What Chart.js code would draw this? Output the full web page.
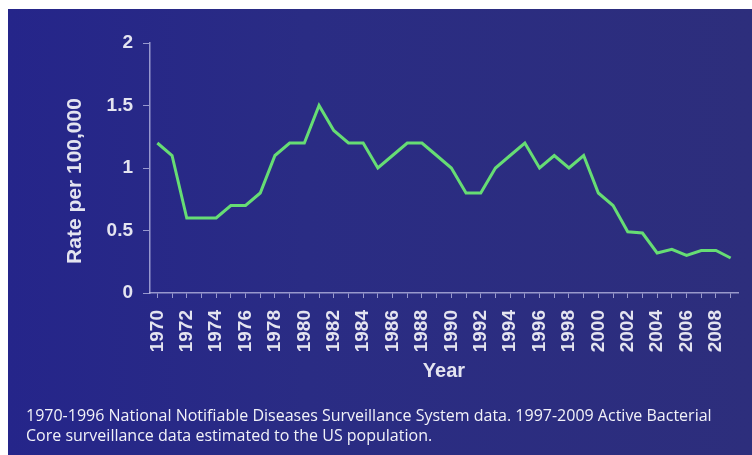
<!DOCTYPE html>
<html>
<head>
<meta charset="utf-8">
<script src="https://cdn.jsdelivr.net/npm/chart.js@4.4.0/dist/chart.umd.min.js"></script>
<style>
  html, body { margin: 0; padding: 0; background: #fff; }
  #wrap { position: relative; width: 752px; height: 455px; overflow: hidden; }
  #panel {
    position: absolute; left: 8px; top: 9px; right: 0; bottom: 0;
    background: linear-gradient(90deg, #25258a 0%, #2a2c84 40%, #2d2e7c 100%);
  }
  #chart { position: absolute; left: 0; top: 0; }
  #note {
    position: absolute; left: 26px; top: 405px;
    font-family: "Open Sans", sans-serif; font-size: 16px; line-height: 20px;
    color: #f2f2f8; white-space: nowrap;
  }
</style>
</head>
<body>
<div id="wrap">
  <div id="panel"></div>
  <canvas id="chart" width="752" height="455"></canvas>
  <div id="note">1970-1996 National Notifiable Diseases Surveillance System data. 1997-2009 Active Bacterial<br>Core surveillance data estimated to the US population.</div>
</div>
<script>
// --- data ---
const years = [
  1970, 1971, 1972, 1973, 1974, 1975, 1976, 1977, 1978, 1979,
  1980, 1981, 1982, 1983, 1984, 1985, 1986, 1987, 1988, 1989,
  1990, 1991, 1992, 1993, 1994, 1995, 1996, 1997, 1998, 1999,
  2000, 2001, 2002, 2003, 2004, 2005, 2006, 2007, 2008, 2009
];
const rates = [
  1.2, 1.1, 0.6, 0.6, 0.6, 0.7, 0.7, 0.8, 1.1, 1.2,
  1.2, 1.5, 1.3, 1.2, 1.2, 1.0, 1.1, 1.2, 1.2, 1.1,
  1.0, 0.8, 0.8, 1.0, 1.1, 1.2, 1.0, 1.1, 1.0, 1.1,
  0.8, 0.7, 0.49, 0.48, 0.32, 0.35, 0.30, 0.34, 0.34, 0.28
];
const yTicks = [0, 0.5, 1, 1.5, 2];
const yTitle = 'Rate per 100,000';
const xTitle = 'Year';

const AXIS_COLOR = 'rgba(190,190,230,0.75)';
const TEXT_COLOR = '#e4e4f0';
const LINE_COLOR = '#66dd74';

// y axis title drawn at its spot in the picture
const yTitlePlugin = {
  id: 'yTitle',
  afterDraw(chart) {
    const ctx = chart.ctx;
    ctx.save();
    ctx.translate(75, 181);
    ctx.rotate(-Math.PI / 2);
    ctx.font = 'bold 21px "Liberation Sans", Arial, sans-serif';
    ctx.fillStyle = TEXT_COLOR;
    ctx.textAlign = 'center';
    ctx.textBaseline = 'middle';
    ctx.fillText(yTitle, 0, 0);
    ctx.restore();
  }
};

const ctx = document.getElementById('chart').getContext('2d');
new Chart(ctx, {
  type: 'line',
  data: {
    labels: years.map(String),
    datasets: [{
      data: rates,
      borderColor: LINE_COLOR,
      borderWidth: 3,
      tension: 0,
      pointRadius: 0,
      fill: false
    }]
  },
  options: {
    responsive: false,
    animation: false,
    layout: { padding: { left: 0, top: 43, right: 14, bottom: 70 } },
    plugins: { legend: { display: false }, tooltip: { enabled: false } },
    scales: {
      x: {
        type: 'category',
        offset: true,
        afterFit(scale) {
          scale.height = 92;
          scale.paddingLeft = 0;
          scale.paddingRight = 0;
        },
        border: { color: AXIS_COLOR, width: 1.5 },
        grid: { drawOnChartArea: false, color: AXIS_COLOR, tickLength: 5 },
        ticks: {
          autoSkip: false,
          maxRotation: 90,
          minRotation: 90,
          padding: 12,
          color: TEXT_COLOR,
          font: { family: '"Liberation Sans", Arial, sans-serif', size: 19, weight: 'bold' },
          callback(value, index) { return index % 2 === 0 ? years[index] : ''; }
        },
        title: {
          display: true,
          text: xTitle,
          color: TEXT_COLOR,
          padding: { top: 0, bottom: 2 },
          font: { family: '"Liberation Sans", Arial, sans-serif', size: 20, weight: 'bold' }
        }
      },
      y: {
        min: 0,
        max: 2,
        afterFit(scale) {
          scale.width = 150;
          scale.paddingTop = 0;
          scale.paddingBottom = 0;
        },
        afterBuildTicks(scale) { scale.ticks = yTicks.map(v => ({ value: v })); },
        border: { color: AXIS_COLOR, width: 1.5 },
        grid: { drawOnChartArea: false, color: AXIS_COLOR, tickLength: 7 },
        ticks: {
          padding: 10,
          color: TEXT_COLOR,
          font: { family: '"Liberation Sans", Arial, sans-serif', size: 19, weight: 'bold' },
          callback(value) { return String(value); }
        }
      }
    }
  },
  plugins: [yTitlePlugin]
});
</script>
</body>
</html>
